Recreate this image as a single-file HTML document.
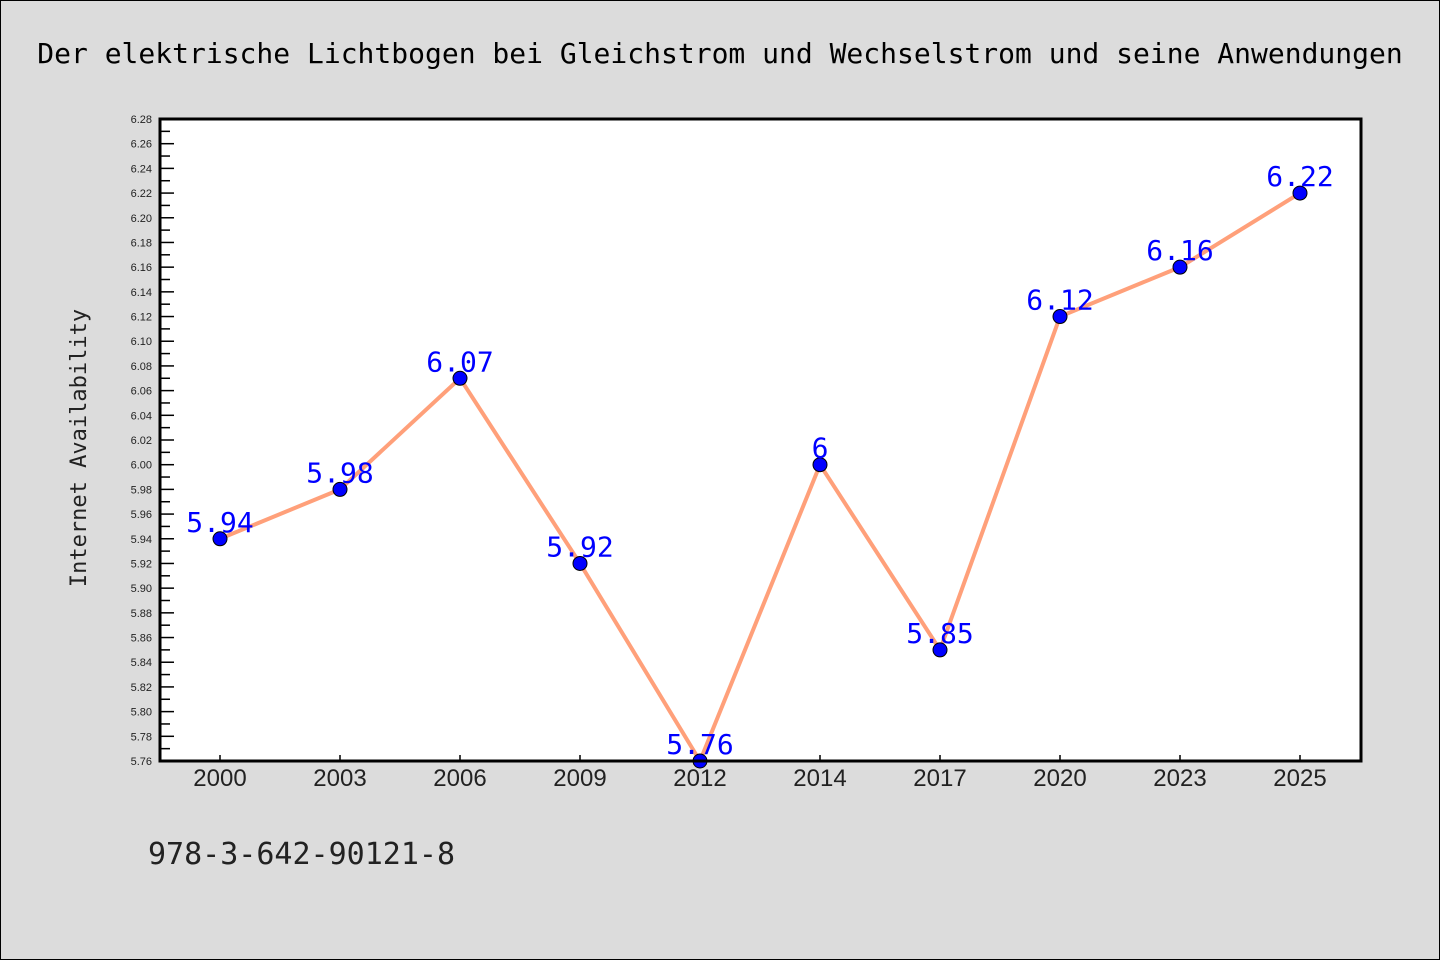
<!DOCTYPE html>
<html><head><meta charset="utf-8"><style>
body{margin:0;background:#dcdcdc;}
svg{display:block;font-family:"DejaVu Sans Mono","Liberation Mono",monospace;}
</style></head><body>
<svg id="c" width="1440" height="960">
<rect x="0.5" y="0.5" width="1439" height="959" fill="#dcdcdc" stroke="#000"/>
<text x="720" y="63" text-anchor="middle" font-size="28" fill="#000">Der elektrische Lichtbogen bei Gleichstrom und Wechselstrom und seine Anwendungen</text>
<rect x="160" y="119" width="1201" height="642" fill="#fff"/>
<g id="yt"></g><g id="xt"></g><g id="ln"></g><g id="pts"></g><g id="lbl"></g>
<rect x="160" y="119" width="1201" height="642" fill="none" stroke="#000" stroke-width="3"/>
<text x="86" y="448" transform="rotate(-90 86 448)" text-anchor="middle" font-size="22" fill="#222">Internet Availability</text>
<text x="148" y="864" font-size="30" fill="#222">978-3-642-90121-8</text>
</svg>
<script>
const categories=["2000","2003","2006","2009","2012","2014","2017","2020","2023","2025"];
const values=[5.94,5.98,6.07,5.92,5.76,6.00,5.85,6.12,6.16,6.22];
const valueLabels=["5.94","5.98","6.07","5.92","5.76","6","5.85","6.12","6.16","6.22"];
const yMin=5.76,yMax=6.28;
const NS="http://www.w3.org/2000/svg";
const L=160,R=1361,T=119,B=761;
const y=v=>B-(v-yMin)/(yMax-yMin)*(B-T);
const x=i=>220+i*120;
function mk(tag,attrs,parent,txt){const e=document.createElementNS(NS,tag);for(const k in attrs)e.setAttribute(k,attrs[k]);if(txt!==undefined)e.textContent=txt;document.getElementById(parent).appendChild(e);return e;}
for(let k=0;k<=52;k++){const v=yMin+k*0.01,yy=y(v);const major=k%2===0;
 const t=mk('line',{x1:L,x2:L+(major?14:10),y1:yy,y2:yy,stroke:'#000','stroke-width':1.5},'yt');
 
 
 if(major){const tx=mk('text',{x:152,y:yy+4,'text-anchor':'end','font-size':11,fill:'#222','font-family':'Liberation Sans, sans-serif'},'yt',v.toFixed(2));
 
 }}
categories.forEach((c,i)=>{const t=mk('line',{x1:x(i),x2:x(i),y1:B,y2:B-6,stroke:'#000','stroke-width':1.5},'xt');
 
 
 const tx=mk('text',{x:x(i),y:786,'text-anchor':'middle','font-size':24,fill:'#222','font-family':'Liberation Sans, sans-serif'},'xt',c);
 
 });
const pl=mk('polyline',{points:values.map((v,i)=>x(i)+','+y(v)).join(' '),fill:'none',stroke:'#ffa07a','stroke-width':4},'ln');


values.forEach((v,i)=>{const c=mk('circle',{cx:x(i),cy:y(v),r:7,fill:'#0000ff',stroke:'#000','stroke-width':1},'pts');
 
 
 const t=mk('text',{x:x(i),y:y(v)-7,'text-anchor':'middle','font-size':28,fill:'#0000ff'},'lbl',valueLabels[i]);
 
 });
</script>
</body></html>
